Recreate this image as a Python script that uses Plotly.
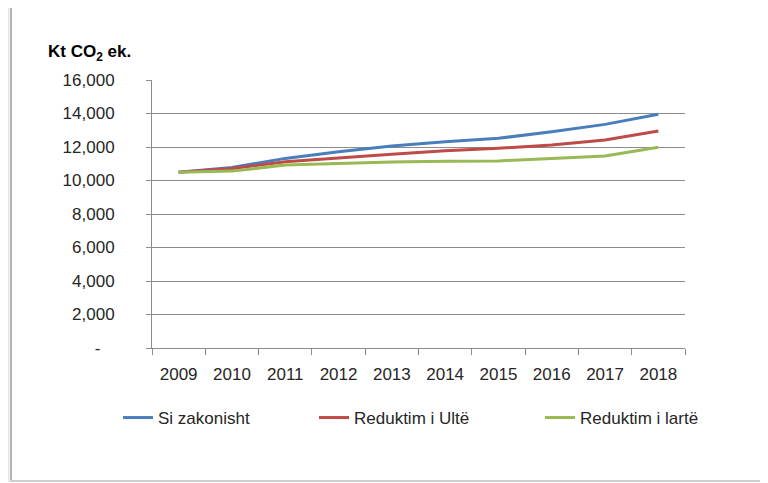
import plotly.graph_objects as go

years = ["2009", "2010", "2011", "2012", "2013", "2014", "2015", "2016", "2017", "2018"]
si_zakonisht = [10500, 10780, 11320, 11720, 12060, 12320, 12520, 12910, 13350, 13950]
reduktim_ulte = [10500, 10720, 11120, 11360, 11560, 11780, 11920, 12120, 12420, 12950]
reduktim_larte = [10500, 10560, 10920, 11020, 11100, 11150, 11170, 11320, 11460, 11980]

y_tickvals = [0, 2000, 4000, 6000, 8000, 10000, 12000, 14000, 16000]
y_ticktext = ["-\u00a0\u00a0\u00a0", "2,000", "4,000", "6,000", "8,000", "10,000", "12,000", "14,000", "16,000"]

FONT = "Liberation Sans, Arial, sans-serif"
TXT = "#262626"
GRID = "#8c8c8c"

OFF = 8  # default page body margin
FW, FH = 768 - OFF, 483 - OFF
# plot-area geometry in screen pixels
L, R, T, B = 152, 685, 80, 348
W, H = R - L, B - T


def px(x):
    return (x - L) / W


def py(y):
    return (B - y) / H


fig = go.Figure()
fig.add_trace(go.Scatter(x=years, y=si_zakonisht, mode="lines", name="Si zakonisht",
                         line=dict(color="#4A7EBB", width=3), legend="legend"))
fig.add_trace(go.Scatter(x=years, y=reduktim_ulte, mode="lines", name="Reduktim i Ultë",
                         line=dict(color="#BE4B48", width=3), legend="legend2"))
fig.add_trace(go.Scatter(x=years, y=reduktim_larte, mode="lines", name="Reduktim i lartë",
                         line=dict(color="#98B954", width=3), legend="legend3"))


def leg(xpix):
    return dict(orientation="h", x=px(xpix), xanchor="left", y=py(418), yanchor="middle",
                font=dict(family=FONT, size=17, color=TXT), bgcolor="rgba(0,0,0,0)")


def hline(x0, x1, y, color, w):
    return dict(type="line", xref="paper", yref="paper", x0=px(x0), x1=px(x1), y0=py(y), y1=py(y),
                line=dict(color=color, width=w), layer="below")


def vline(x, y0, y1, color, w):
    return dict(type="line", xref="paper", yref="paper", x0=px(x), x1=px(x), y0=py(y0), y1=py(y1),
                line=dict(color=color, width=w), layer="below")


fig.update_layout(
    width=FW, height=FH,
    margin=dict(l=L - OFF, r=FW - (R - OFF), t=T - OFF, b=FH - (B - OFF)),
    paper_bgcolor="white", plot_bgcolor="white",
    font=dict(family=FONT, size=17, color=TXT),
    showlegend=True,
    legend=leg(118), legend2=leg(314), legend3=leg(540),
    xaxis=dict(type="category", range=[-0.5, 9.5], tickson="boundaries", ticks="outside", ticklen=6,
               tickcolor=GRID, showline=True, linecolor=GRID, linewidth=1,
               showgrid=False, ticklabelstandoff=11, fixedrange=True),
    yaxis=dict(range=[0, 16000], tickvals=y_tickvals, ticktext=y_ticktext,
               ticks="outside", ticklen=5, tickcolor=GRID, showline=True,
               linecolor=GRID, linewidth=1, gridcolor=GRID, gridwidth=1,
               zeroline=False, ticklabelstandoff=28, fixedrange=True),
    annotations=[dict(text="<b>Kt CO<sub>2</sub> ek.</b>", xref="paper", yref="paper",
                      x=px(46), y=py(53), xanchor="left", yanchor="middle",
                      showarrow=False, font=dict(family=FONT, size=17, color="#000"))],
    shapes=[
        hline(10, 770, 5, "#ececec", 3),
        hline(10, 770, 7, "#dcdcdc", 1),
        vline(8, 7, 482, "#e4e4e4", 3),
        vline(11, 7, 482, "#b4b4b4", 2),
        hline(10, 770, 481, "#cfcfcf", 2),
    ],
)

fig.write_html("out.html")
